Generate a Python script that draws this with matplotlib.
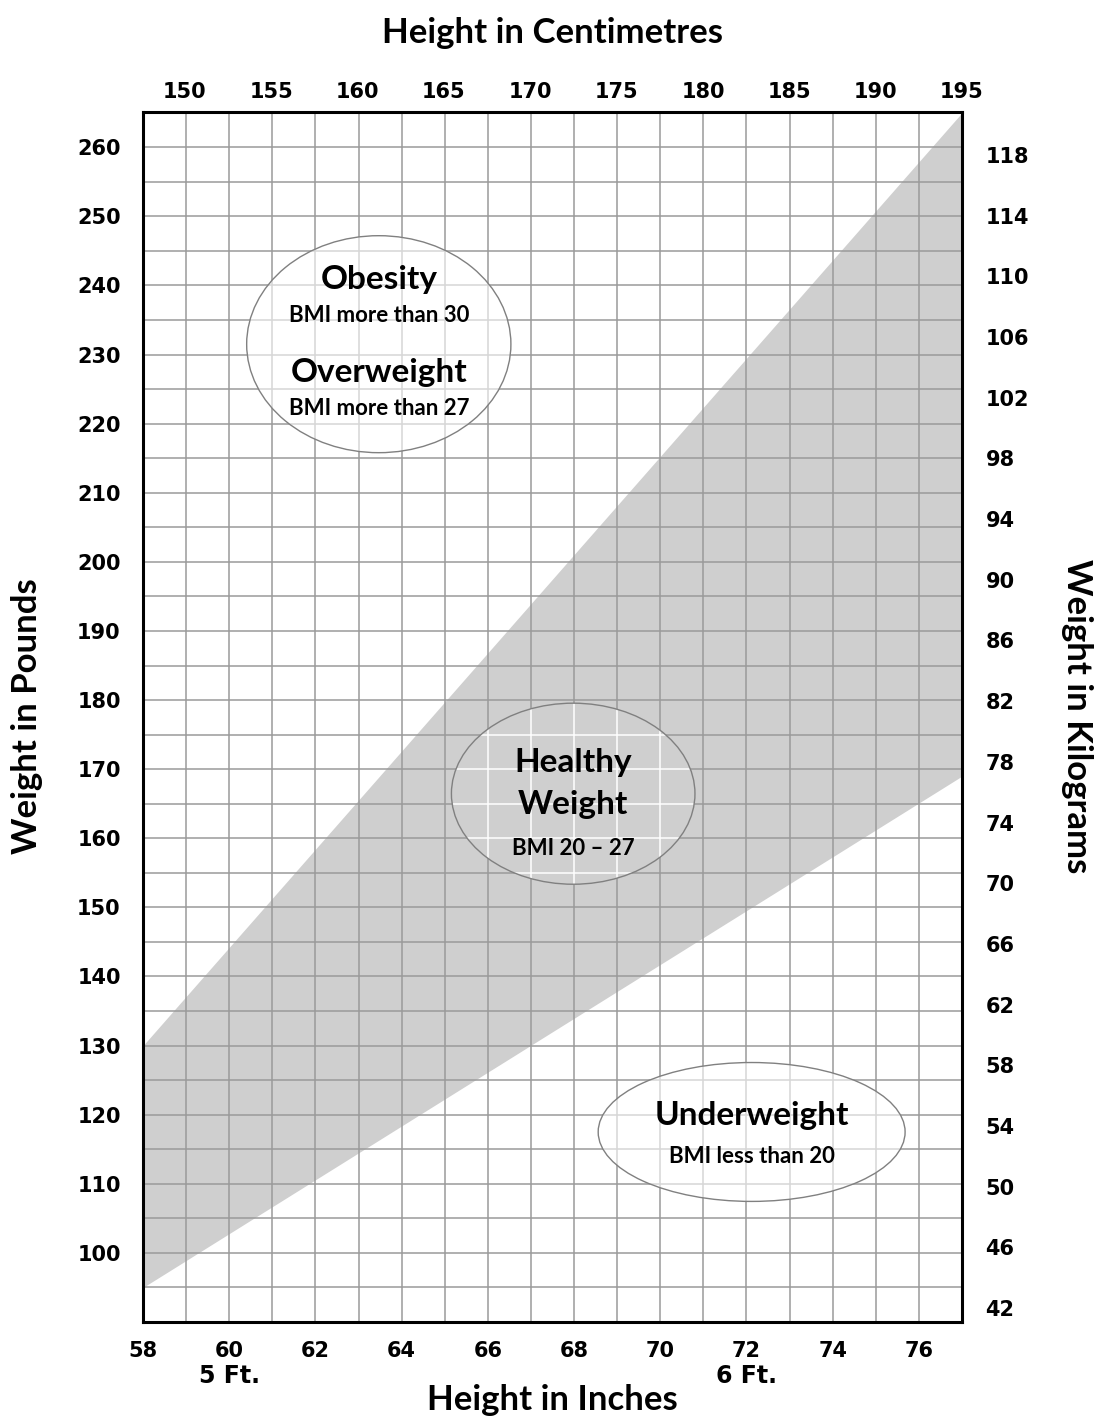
import matplotlib
matplotlib.use("Agg")
import matplotlib.pyplot as plt
from matplotlib.patches import Ellipse
import numpy as np

plt.rcParams['font.family'] = ['Lato', 'DejaVu Sans']

# ---- data ----
height_in = [58, 77]
band_upper_lb = [130, 265]
band_lower_lb = [95, 169]
inch_ticks = [58, 60, 62, 64, 66, 68, 70, 72, 74, 76]
lb_ticks = [100, 110, 120, 130, 140, 150, 160, 170, 180, 190, 200, 210, 220, 230, 240, 250, 260]
cm_ticks = [150, 155, 160, 165, 170, 175, 180, 185, 190, 195]
kg_ticks = [42, 46, 50, 54, 58, 62, 66, 70, 74, 78, 82, 86, 90, 94, 98, 102, 106, 110, 114, 118]
feet_labels = ["5 Ft.", "6 Ft."]
feet_pos = [60, 72]

zones = [
    dict(c=(63.47, 231.5), w=6.13, h=31.4, fill='white', gc='#d6d6d6',
         texts=[("Obesity", 240.8, 24), ("BMI more than 30", 235.6, 16),
                ("Overweight", 227.4, 24), ("BMI more than 27", 222.2, 16)]),
    dict(c=(67.98, 166.45), w=5.65, h=26.2, fill='#cfcfcf', gc='white',
         texts=[("Healthy", 171.0, 24), ("Weight", 164.9, 24), ("BMI 20 – 27", 158.5, 16)]),
    dict(c=(72.12, 117.5), w=7.12, h=20.1, fill='white', gc='#d6d6d6',
         texts=[("Underweight", 119.9, 24), ("BMI less than 20", 113.9, 16)]),
]

W, H = 1095, 1421
fig = plt.figure(figsize=(W / 100, H / 100), dpi=100)
L, R, T, B = 143, 962, 112, 1322
ax = fig.add_axes([L / W, 1 - B / H, (R - L) / W, (B - T) / H])

ax.set_xlim(58, 77)
ax.set_ylim(90, 265.1)

ax.fill_between(height_in, band_lower_lb, band_upper_lb, color='#cfcfcf', lw=0, zorder=1)

grid_x = np.arange(58, 78, 1)
grid_y = np.arange(90, 266, 5)
ax.set_xticks(inch_ticks)
ax.set_xticks(grid_x, minor=True)
ax.set_yticks(lb_ticks)
ax.set_yticks(grid_y, minor=True)
ax.grid(True, which='both', color='#9a9a9a', lw=1.1, zorder=1.5)
ax.tick_params(which='both', length=0)
ax.tick_params(axis='x', pad=14)
ax.tick_params(axis='y', pad=16)

tick_font = dict(family='DejaVu Sans', weight='bold', size=15)

def style(labels):
    for lab in labels:
        lab.set_fontfamily(tick_font['family'])
        lab.set_fontweight(tick_font['weight'])
        lab.set_fontsize(tick_font['size'])

style(ax.get_xticklabels() + ax.get_yticklabels())

for z in zones:
    fillp = Ellipse(z['c'], z['w'], z['h'], facecolor=z['fill'], edgecolor='none', zorder=2)
    ax.add_patch(fillp)
    for gx in grid_x:
        ln, = ax.plot([gx, gx], [90, 265], color=z['gc'], lw=1.1, zorder=2.5)
        ln.set_clip_path(fillp)
    for gy in grid_y:
        ln, = ax.plot([58, 77], [gy, gy], color=z['gc'], lw=1.1, zorder=2.5)
        ln.set_clip_path(fillp)
    ax.add_patch(Ellipse(z['c'], z['w'], z['h'], facecolor='none', edgecolor='#808080', lw=1.0, zorder=3))
    for txt, yy, fs in z['texts']:
        ax.text(z['c'][0], yy, txt, ha='center', va='center', fontsize=fs,
                fontweight='bold', zorder=4)

for s in ax.spines.values():
    s.set_linewidth(2.2)
    s.set_zorder(5)

# top axis: centimetres
axt = ax.twiny()
axt.set_xlim(147.57, 195)
axt.set_xticks(cm_ticks)
axt.tick_params(length=0, pad=7)
style(axt.get_xticklabels())

# right axis: kilograms
axr = ax.twinx()
axr.set_ylim(41.08, 120.83)
axr.set_yticks(kg_ticks)
axr.tick_params(length=0, pad=17)
style(axr.get_yticklabels())
for a in (axt, axr):
    for s in a.spines.values():
        s.set_visible(False)

for ft, xp in zip(feet_labels, feet_pos):
    ax.text(xp, -0.045, ft, transform=ax.get_xaxis_transform(), ha='center', va='center',
            fontsize=17, fontweight='bold', family='DejaVu Sans')

cx = (L + R) / 2 / W
fig.text(cx, 1 - 33 / H, "Height in Centimetres", ha='center', va='center', fontsize=25, fontweight='bold')
fig.text(cx, 1 - 1400 / H, "Height in Inches", ha='center', va='center', fontsize=25, fontweight='bold')
fig.text(27 / W, 1 - 716 / H, "Weight in Pounds", ha='center', va='center', rotation=90, fontsize=25, fontweight='bold')
fig.text(1077 / W, 1 - 716 / H, "Weight in Kilograms", ha='center', va='center', rotation=-90, fontsize=25, fontweight='bold')

fig.savefig("out.png", dpi=100)
